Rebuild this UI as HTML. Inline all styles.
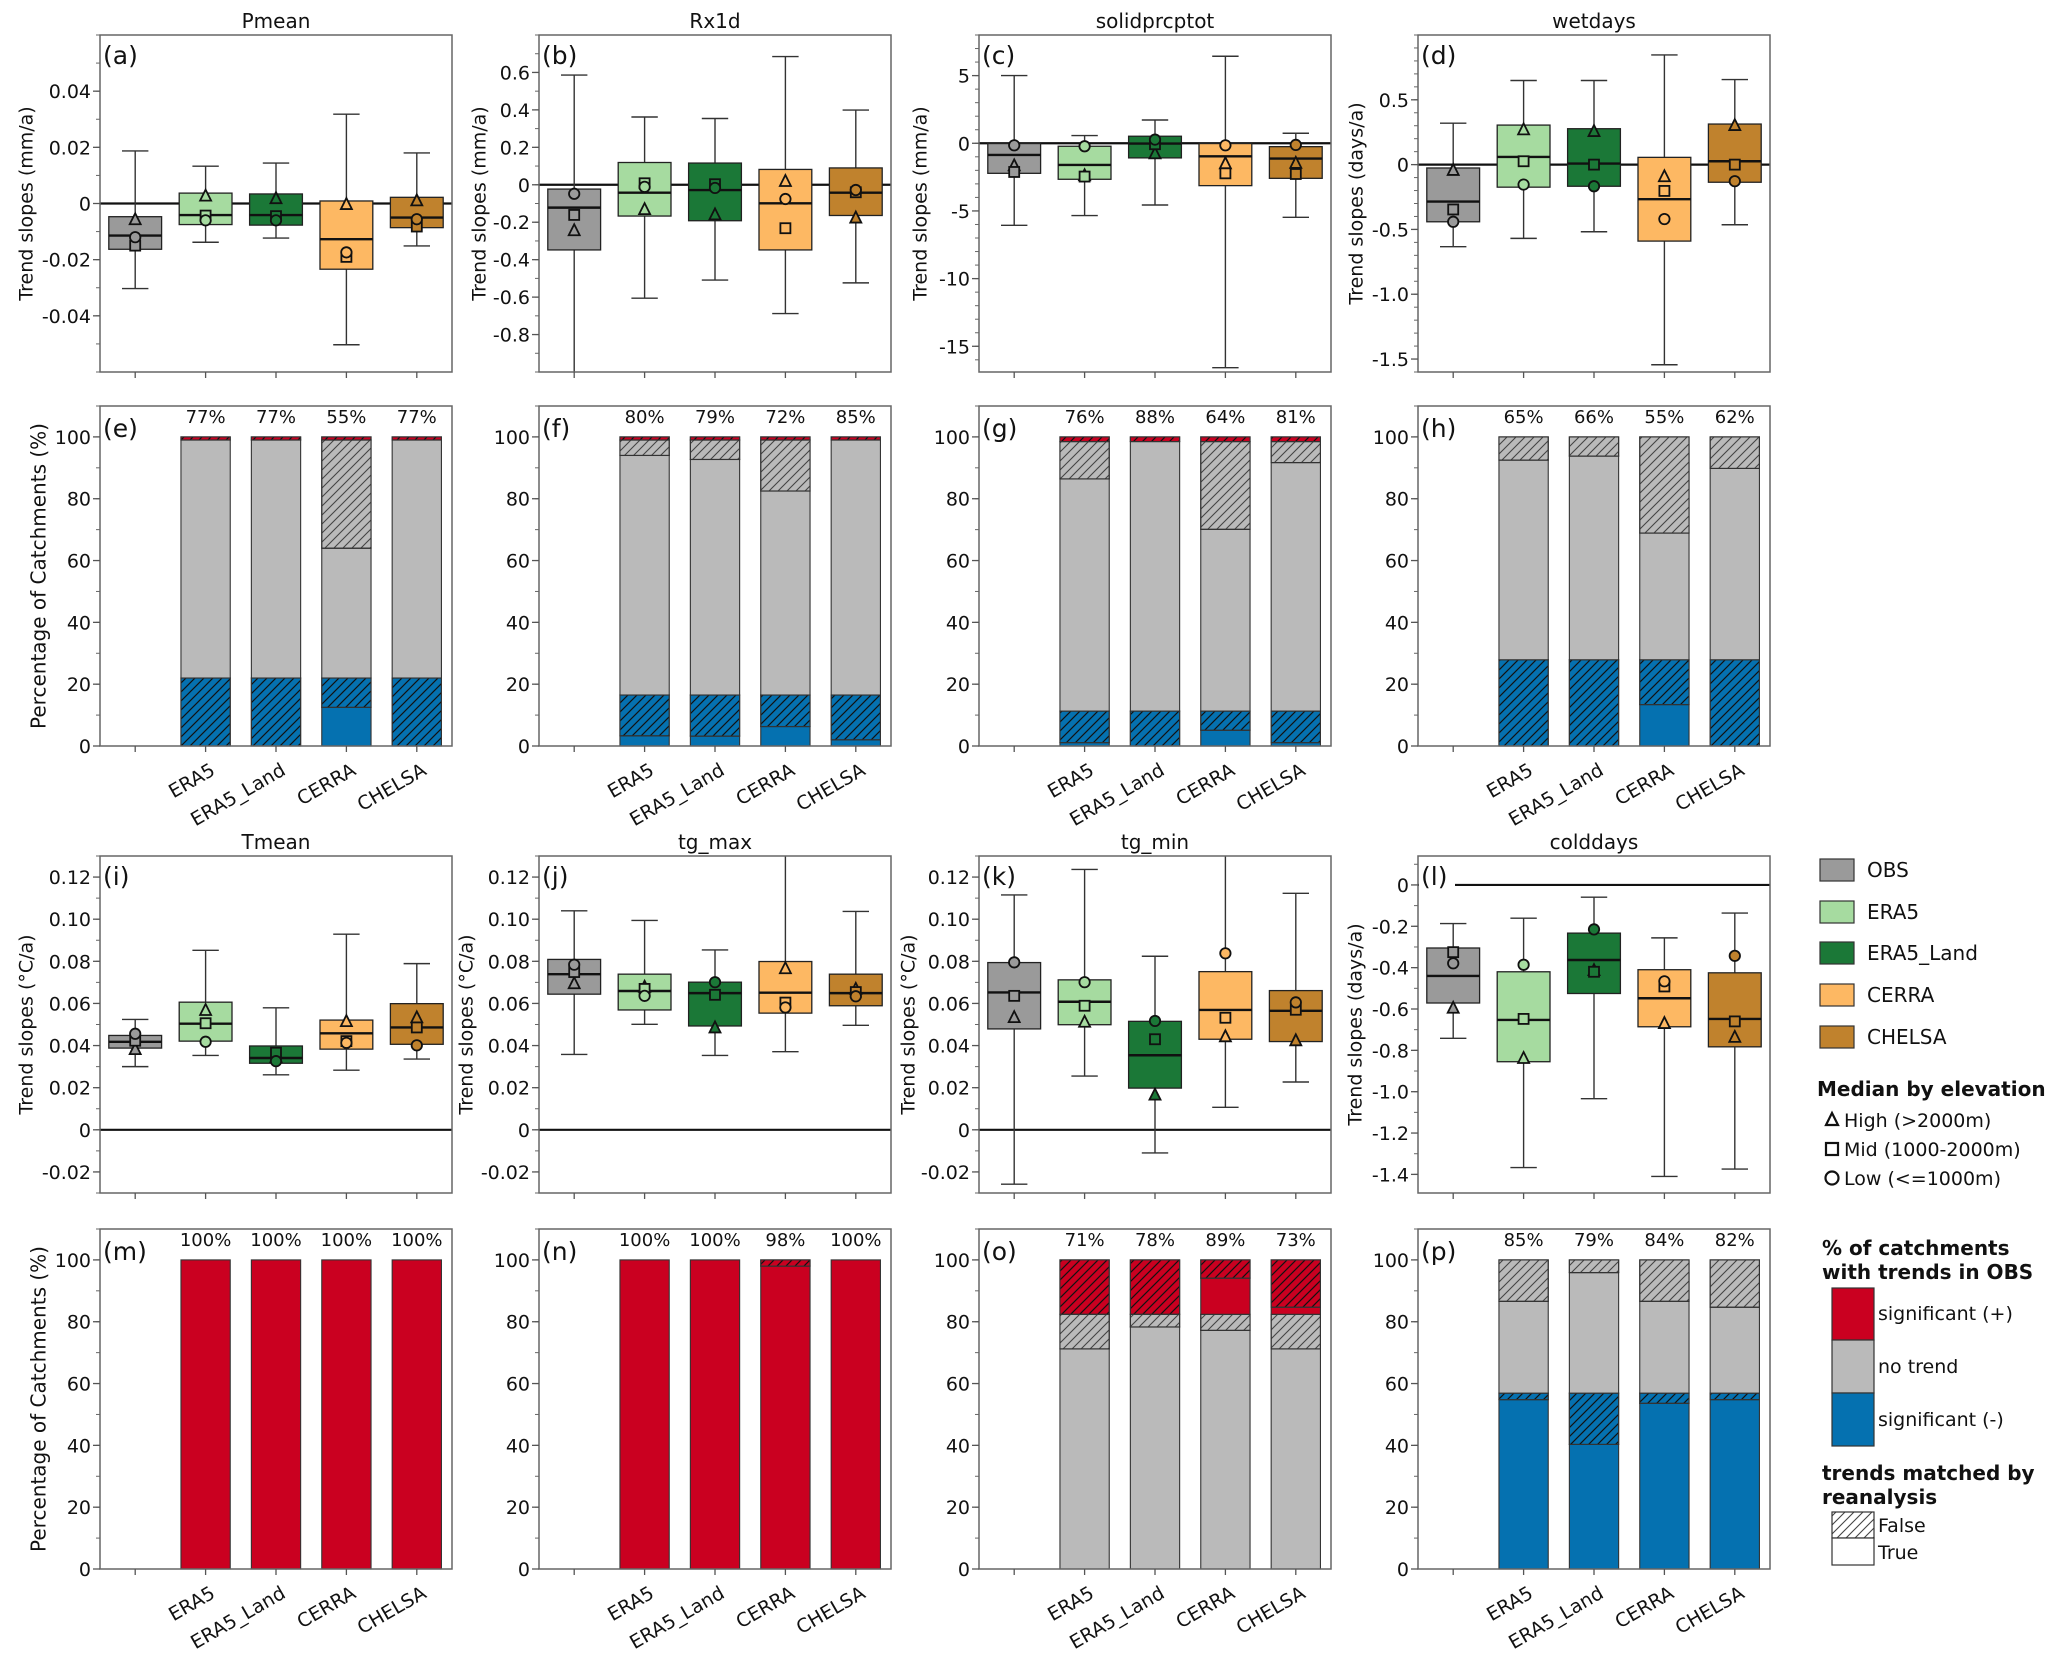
<!DOCTYPE html>
<html><head><meta charset="utf-8"><style>
html,body{margin:0;padding:0;background:#fff;}
svg text{font-family:"DejaVu Sans","Liberation Sans",sans-serif;fill:#111;}
</style></head><body>
<svg id="fig" xmlns="http://www.w3.org/2000/svg" width="2067" height="1649" viewBox="0 0 2067 1649">
<defs>
<pattern id="hatchBlack" patternUnits="userSpaceOnUse" width="9" height="9" patternTransform="rotate(0)">
<path d="M-2,11 L11,-2 M-2,2 L2,-2 M7,11 L11,7" stroke="#111" stroke-width="1.2"/></pattern>
<pattern id="hatchGray" patternUnits="userSpaceOnUse" width="9" height="9">
<path d="M-2,11 L11,-2 M-2,2 L2,-2 M7,11 L11,7" stroke="#444" stroke-width="1.1"/></pattern>
</defs>
</svg>
<script>
const categories = ['OBS','ERA5','ERA5_Land','CERRA','CHELSA'];
const reanalyses = ['ERA5','ERA5_Land','CERRA','CHELSA'];
const boxColors = ['#9a9a9a','#a6dba0','#1b7837','#fdb863','#c0822d'];

// Pmean
const pmeanWLo=[-0.0303,-0.0138,-0.0123,-0.0503,-0.0151];
const pmeanQ1=[-0.0163,-0.0075,-0.0077,-0.0234,-0.0086];
const pmeanMed=[-0.0114,-0.0041,-0.0041,-0.0127,-0.005];
const pmeanQ3=[-0.0047,0.0037,0.0034,0.0009,0.0022];
const pmeanWHi=[0.0187,0.0133,0.0144,0.0318,0.018];
const pmeanHigh=[-0.0056,0.0028,0.0019,-0.0002,0.0011];
const pmeanMid=[-0.015,-0.0043,-0.0045,-0.019,-0.0082];
const pmeanLow=[-0.012,-0.006,-0.006,-0.0174,-0.0056];
// Rx1d
const rx1dWLo=[-1.05,-0.606,-0.509,-0.688,-0.524];
const rx1dQ1=[-0.348,-0.167,-0.192,-0.348,-0.164];
const rx1dMed=[-0.122,-0.042,-0.028,-0.099,-0.042];
const rx1dQ3=[-0.023,0.119,0.116,0.082,0.09];
const rx1dWHi=[0.586,0.362,0.354,0.685,0.399];
const rx1dHigh=[-0.243,-0.13,-0.158,0.02,-0.175];
const rx1dMid=[-0.161,0.008,0.003,-0.232,-0.04];
const rx1dLow=[-0.048,-0.011,-0.017,-0.076,-0.028];
// solidprcptot
const solidWLo=[-6.06,-5.34,-4.56,-16.58,-5.47];
const solidQ1=[-2.22,-2.66,-1.08,-3.13,-2.59];
const solidMed=[-0.86,-1.6,-0.02,-0.96,-1.13];
const solidQ3=[-0.02,-0.22,0.52,-0.02,-0.25];
const solidWHi=[5.0,0.57,1.72,6.43,0.74];
const solidHigh=[-1.63,-2.36,-0.74,-1.48,-1.45];
const solidMid=[-2.12,-2.46,-0.07,-2.22,-2.27];
const solidLow=[-0.15,-0.22,0.27,-0.15,-0.12];
// wetdays
const wetWLo=[-0.633,-0.569,-0.518,-1.544,-0.464];
const wetQ1=[-0.441,-0.174,-0.167,-0.59,-0.136];
const wetMed=[-0.285,0.059,0.008,-0.267,0.026];
const wetQ3=[-0.026,0.305,0.277,0.056,0.313];
const wetWHi=[0.32,0.649,0.649,0.846,0.656];
const wetHigh=[-0.041,0.272,0.259,-0.09,0.305];
const wetMid=[-0.346,0.026,0,-0.203,0];
const wetLow=[-0.441,-0.154,-0.167,-0.42,-0.128];
// Tmean
const tmeanWLo=[0.030,0.0353,0.0261,0.0283,0.0336];
const tmeanQ1=[0.0388,0.0421,0.0316,0.0383,0.0406];
const tmeanMed=[0.0418,0.0504,0.0341,0.0458,0.0486];
const tmeanQ3=[0.0448,0.0606,0.0398,0.0521,0.0599];
const tmeanWHi=[0.0524,0.0852,0.0579,0.0929,0.0789];
const tmeanHigh=[0.0383,0.0569,0.0346,0.0516,0.0534];
const tmeanMid=[0.0423,0.0506,0.0366,0.0421,0.0486];
const tmeanLow=[0.0456,0.0418,0.0326,0.0413,0.0401];
// tg_max
const tgmaxWLo=[0.0358,0.0501,0.0353,0.0371,0.0496];
const tgmaxQ1=[0.0644,0.0569,0.0493,0.0554,0.0589];
const tgmaxMed=[0.0739,0.0659,0.0649,0.0651,0.0649];
const tgmaxQ3=[0.0809,0.0739,0.0701,0.0799,0.0739];
const tgmaxWHi=[0.104,0.0994,0.0854,0.14,0.1037];
const tgmaxHigh=[0.0696,0.0679,0.0486,0.0767,0.0669];
const tgmaxMid=[0.0749,0.0669,0.0641,0.0604,0.0654];
const tgmaxLow=[0.0784,0.0636,0.0701,0.0581,0.0634];
// tg_min
const tgminWLo=[-0.0258,0.0255,-0.011,0.0107,0.0227];
const tgminQ1=[0.0479,0.0499,0.0198,0.043,0.0419];
const tgminMed=[0.0652,0.0608,0.0354,0.0569,0.0565];
const tgminQ3=[0.0794,0.0712,0.0515,0.0751,0.0661];
const tgminWHi=[0.1115,0.1236,0.0824,0.14,0.1123];
const tgminHigh=[0.0535,0.0513,0.0167,0.0444,0.0425];
const tgminMid=[0.0636,0.0589,0.043,0.0532,0.057];
const tgminLow=[0.0795,0.0701,0.0517,0.0838,0.0605];
// colddays
const coldWLo=[-0.742,-1.367,-1.034,-1.41,-1.374];
const coldQ1=[-0.571,-0.855,-0.525,-0.686,-0.783];
const coldMed=[-0.44,-0.653,-0.363,-0.548,-0.648];
const coldQ3=[-0.305,-0.42,-0.233,-0.41,-0.425];
const coldWHi=[-0.187,-0.161,-0.059,-0.256,-0.136];
const coldHigh=[-0.594,-0.837,-0.412,-0.668,-0.735];
const coldMid=[-0.325,-0.648,-0.42,-0.491,-0.66];
const coldLow=[-0.379,-0.386,-0.215,-0.466,-0.343];

// stacked bars (percent of catchments)
const eNegT=[0,0,12.5,0], eNegF=[22,22,9.5,22], eNoT=[77,77,42,77], eNoF=[0,0,35,0], ePosT=[0,0,0,0], ePosF=[1,1,1,1];
const eLabels=['77%','77%','55%','77%'];
const fNegT=[3.3,3.2,6.3,2], fNegF=[13.2,13.3,10.2,14.5], fNoT=[77.5,76.2,66,82.5], fNoF=[5,6.3,16.5,0], fPosT=[0,0,0,0], fPosF=[1,1,1,1];
const fLabels=['80%','79%','72%','85%'];
const gNegT=[1.1,0,5.1,1.1], gNegF=[10.2,11.3,6.2,10.2], gNoT=[75.1,87.2,58.8,80.4], gNoF=[12.1,0,28.4,6.8], gPosT=[0,0,0,0], gPosF=[1.5,1.5,1.5,1.5];
const gLabels=['76%','88%','64%','81%'];
const hNegT=[0,0,13.4,0], hNegF=[27.9,27.9,14.5,27.9], hNoT=[64.6,65.9,41,61.9], hNoF=[7.5,6.2,31.1,10.2], hPosT=[0,0,0,0], hPosF=[0,0,0,0];
const hLabels=['65%','66%','55%','62%'];
const mNegT=[0,0,0,0], mNegF=[0,0,0,0], mNoT=[0,0,0,0], mNoF=[0,0,0,0], mPosT=[100,100,100,100], mPosF=[0,0,0,0];
const mLabels=['100%','100%','100%','100%'];
const nNegT=[0,0,0,0], nNegF=[0,0,0,0], nNoT=[0,0,0,0], nNoF=[0,0,0,0], nPosT=[100,100,98,100], nPosF=[0,0,2,0];
const nLabels=['100%','100%','98%','100%'];
const oNegT=[0,0,0,0], oNegF=[0,0,0,0], oNoT=[71.2,78.3,77.2,71.2], oNoF=[11.2,4.1,5.2,11.2], oPosT=[0,0,11.7,2.3], oPosF=[17.6,17.6,5.9,15.3];
const oLabels=['71%','78%','89%','73%'];
const pNegT=[54.8,40.3,53.6,54.8], pNegF=[2.1,16.6,3.3,2.1], pNoT=[29.7,39,29.7,27.8], pNoF=[13.4,4.1,13.4,15.3], pPosT=[0,0,0,0], pPosF=[0,0,0,0];
const pLabels=['85%','79%','84%','82%'];

const NS='http://www.w3.org/2000/svg';
const svg=document.getElementById('fig');
function el(tag,attrs,parent,text){const e=document.createElementNS(NS,tag);for(const k in attrs)e.setAttribute(k,attrs[k]);if(text!==undefined)e.textContent=text;(parent||svg).appendChild(e);return e;}

const colX=[100,539,979,1418], W=352;
const rowBox=[35,856], HB=337, rowBar=[406,1229], HR=340;
let clipId=0;

function axesFrame(g,L,T,H,yScale,ticks,labels,minorStep,ylim){
  // minor ticks
  for(let v=Math.ceil(ylim[0]/minorStep-1e-6)*minorStep; v<=ylim[1]+1e-9; v+=minorStep){
    const y=yScale(v); el('line',{x1:L-4,x2:L,y1:y,y2:y,stroke:'#666','stroke-width':1},g);
  }
  ticks.forEach((v,i)=>{const y=yScale(v);
    el('line',{x1:L-7,x2:L,y1:y,y2:y,stroke:'#555','stroke-width':1.3},g);
    const t=el('text',{x:L-9,y:y+7,'text-anchor':'end','font-size':19},g,labels[i]);
    
    
  });
  for(let i=0;i<5;i++){const x=L+(i+0.5)*W/5;el('line',{x1:x,x2:x,y1:T+H,y2:T+H+6,stroke:'#555','stroke-width':1.3},g);}
}

function boxPanel(id,col,row,title,letter,ylabel,ylim,ticks,labels,minorStep,wlo,q1,med,q3,whi,hi,mid,lo,labX){
  const L=colX[col],T=rowBox[row],H=HB;
  const g=el('g',{});
  
  
  const ys=v=>T+H-(v-ylim[0])/(ylim[1]-ylim[0])*H;
  const xs=i=>L+(i+0.5)*W/5;
  const cid='clip'+(clipId++);
  const cp=el('clipPath',{id:cid},g);el('rect',{x:L,y:T,width:W,height:H},cp);
  const inner=el('g',{'clip-path':'url(#'+cid+')'},g);
  // zero line
  el('line',{x1:L,x2:L+W,y1:ys(0),y2:ys(0),stroke:'#111','stroke-width':2.2},inner);
  const bw=0.75*W/5;
  for(let i=0;i<5;i++){
    const x=xs(i);
    const bg=el('g',{},inner);
    
    
    el('line',{x1:x,x2:x,y1:ys(whi[i]),y2:ys(q3[i]),stroke:'#333','stroke-width':1.4},bg);
    el('line',{x1:x,x2:x,y1:ys(q1[i]),y2:ys(wlo[i]),stroke:'#333','stroke-width':1.4},bg);
    el('line',{x1:x-bw/4,x2:x+bw/4,y1:ys(whi[i]),y2:ys(whi[i]),stroke:'#333','stroke-width':1.4},bg);
    el('line',{x1:x-bw/4,x2:x+bw/4,y1:ys(wlo[i]),y2:ys(wlo[i]),stroke:'#333','stroke-width':1.4},bg);
    el('rect',{x:x-bw/2,y:ys(q3[i]),width:bw,height:ys(q1[i])-ys(q3[i]),fill:boxColors[i],stroke:'#222','stroke-width':1.3},bg);
    el('line',{x1:x-bw/2,x2:x+bw/2,y1:ys(med[i]),y2:ys(med[i]),stroke:'#111','stroke-width':2.4},bg);
    const c=boxColors[i];
    const ty=ys(hi[i]);
    el('path',{d:`M${x-5.5},${ty+5} L${x+5.5},${ty+5} L${x},${ty-6} Z`,fill:c,stroke:'#111','stroke-width':1.8},bg);
    const sy=ys(mid[i]);
    el('rect',{x:x-5,y:sy-5,width:10,height:10,fill:c,stroke:'#111','stroke-width':1.8},bg);
    el('circle',{cx:x,cy:ys(lo[i]),r:5.2,fill:c,stroke:'#111','stroke-width':1.8},bg);
  }
  el('rect',{x:L,y:T,width:W,height:H,fill:'none',stroke:'#666','stroke-width':1.5},g);
  axesFrame(g,L,T,H,ys,ticks,labels,minorStep,ylim);
  const lt=el('text',{x:L+3,y:T+29,'font-size':25},g,letter);
  
  
  const tt=el('text',{x:L+W/2,y:T-7,'text-anchor':'middle','font-size':20},g,title);
  
  
  const yc=T+H/2;
  const yl=el('text',{x:labX,y:yc,'text-anchor':'middle','font-size':19,transform:`rotate(-90 ${labX} ${yc})`,'dominant-baseline':'middle'},g,ylabel);
  
  
  return {g,L,ys};
}

function barPanel(id,col,row,letter,negT,negF,noT,noF,posT,posF,pct,showYLabel){
  const L=colX[col],T=rowBar[row],H=HR;
  const g=el('g',{});
  
  
  const ylim=[0,110];
  const ys=v=>T+H-(v-ylim[0])/(ylim[1]-ylim[0])*H;
  const xs=i=>L+(i+0.5)*W/5;
  const bw=0.7*W/5;
  for(let j=0;j<4;j++){
    const x=xs(j+1);
    const bg=el('g',{},g);
    
    
    const segs=[[negT[j],'#0571b0',null],[negF[j],'#0571b0','hatchBlack'],[noT[j],'#bababa',null],[noF[j],'#bababa','hatchGray'],[posT[j],'#ca0020',null],[posF[j],'#ca0020','hatchBlack']];
    let base=0;
    segs.forEach(s=>{ if(s[0]<=0) return;
      const y0=ys(base+s[0]),h=ys(base)-ys(base+s[0]);
      el('rect',{x:x-bw/2,y:y0,width:bw,height:h,fill:s[1],stroke:'#333','stroke-width':1.1},bg);
      if(s[2]) el('rect',{x:x-bw/2,y:y0,width:bw,height:h,fill:'url(#'+s[2]+')',stroke:'#333','stroke-width':1.1},bg);
      base+=s[0];
    });
    const pt=el('text',{x:x,y:ys(104.5),'text-anchor':'middle','font-size':18},g,pct[j]);
    
    
    const lx=x+4, ly=T+H+16;
    const xl=el('text',{x:lx,y:ly,'text-anchor':'end','font-size':19,transform:`rotate(-30 ${lx} ${ly})`,'dominant-baseline':'hanging'},g,reanalyses[j]);
    
    
  }
  el('rect',{x:L,y:T,width:W,height:H,fill:'none',stroke:'#666','stroke-width':1.5},g);
  axesFrame(g,L,T,H,ys,[0,20,40,60,80,100],['0','20','40','60','80','100'],10,ylim);
  const lt=el('text',{x:L+3,y:T+31,'font-size':25},g,letter);
  
  
  if(showYLabel){const yc=T+H/2,lx=40;
    const yl=el('text',{x:lx,y:yc,'text-anchor':'middle','font-size':20,transform:`rotate(-90 ${lx} ${yc})`,'dominant-baseline':'middle'},g,'Percentage of Catchments (%)');
    
    }
}

const tTicks=[-0.02,0,0.02,0.04,0.06,0.08,0.10,0.12], tLabels=['-0.02','0','0.02','0.04','0.06','0.08','0.10','0.12'];
boxPanel('pmean',0,0,'Pmean','(a)','Trend slopes (mm/a)',[-0.06,0.06],[-0.04,-0.02,0,0.02,0.04],['-0.04','-0.02','0','0.02','0.04'],0.01,pmeanWLo,pmeanQ1,pmeanMed,pmeanQ3,pmeanWHi,pmeanHigh,pmeanMid,pmeanLow,27);
boxPanel('rx1d',1,0,'Rx1d','(b)','Trend slopes (mm/a)',[-1.0,0.8],[-0.8,-0.6,-0.4,-0.2,0,0.2,0.4,0.6],['-0.8','-0.6','-0.4','-0.2','0','0.2','0.4','0.6'],0.1,rx1dWLo,rx1dQ1,rx1dMed,rx1dQ3,rx1dWHi,rx1dHigh,rx1dMid,rx1dLow,480);
boxPanel('solidprcptot',2,0,'solidprcptot','(c)','Trend slopes (mm/a)',[-16.9,8],[-15,-10,-5,0,5],['-15','-10','-5','0','5'],1,solidWLo,solidQ1,solidMed,solidQ3,solidWHi,solidHigh,solidMid,solidLow,921);
boxPanel('wetdays',3,0,'wetdays','(d)','Trend slopes (days/a)',[-1.6,1.0],[-1.5,-1.0,-0.5,0,0.5],['-1.5','-1.0','-0.5','0','0.5'],0.1,wetWLo,wetQ1,wetMed,wetQ3,wetWHi,wetHigh,wetMid,wetLow,1357);
boxPanel('tmean',0,1,'Tmean','(i)','Trend slopes (°C/a)',[-0.03,0.13],tTicks,tLabels,0.01,tmeanWLo,tmeanQ1,tmeanMed,tmeanQ3,tmeanWHi,tmeanHigh,tmeanMid,tmeanLow,27);
boxPanel('tg-max',1,1,'tg_max','(j)','Trend slopes (°C/a)',[-0.03,0.13],tTicks,tLabels,0.01,tgmaxWLo,tgmaxQ1,tgmaxMed,tgmaxQ3,tgmaxWHi,tgmaxHigh,tgmaxMid,tgmaxLow,467);
boxPanel('tg-min',2,1,'tg_min','(k)','Trend slopes (°C/a)',[-0.03,0.13],tTicks,tLabels,0.01,tgminWLo,tgminQ1,tgminMed,tgminQ3,tgminWHi,tgminHigh,tgminMid,tgminLow,909);
const cd=boxPanel('colddays',3,1,'colddays','(l)','Trend slopes (days/a)',[-1.49,0.14],[-1.4,-1.2,-1.0,-0.8,-0.6,-0.4,-0.2,0],['-1.4','-1.2','-1.0','-0.8','-0.6','-0.4','-0.2','0'],0.1,coldWLo,coldQ1,coldMed,coldQ3,coldWHi,coldHigh,coldMid,coldLow,1356);
// white box behind (l) label masking zero line
{const r=el('rect',{x:colX[3]+1,y:cd.ys(0)-12,width:36,height:24,fill:'#fff'},cd.g);cd.g.insertBefore(r,cd.g.querySelector('text'));}

barPanel('pmean',0,0,'(e)',eNegT,eNegF,eNoT,eNoF,ePosT,ePosF,eLabels,true);
barPanel('rx1d',1,0,'(f)',fNegT,fNegF,fNoT,fNoF,fPosT,fPosF,fLabels,false);
barPanel('solidprcptot',2,0,'(g)',gNegT,gNegF,gNoT,gNoF,gPosT,gPosF,gLabels,false);
barPanel('wetdays',3,0,'(h)',hNegT,hNegF,hNoT,hNoF,hPosT,hPosF,hLabels,false);
barPanel('tmean',0,1,'(m)',mNegT,mNegF,mNoT,mNoF,mPosT,mPosF,mLabels,true);
barPanel('tg-max',1,1,'(n)',nNegT,nNegF,nNoT,nNoF,nPosT,nPosF,nLabels,false);
barPanel('tg-min',2,1,'(o)',oNegT,oNegF,oNoT,oNoF,oPosT,oPosF,oLabels,false);
barPanel('colddays',3,1,'(p)',pNegT,pNegF,pNoT,pNoF,pPosT,pPosF,pLabels,false);

// legend
const lg=el('g',{});


const legY=[870,912,953,995,1037];
categories.forEach((c,i)=>{
  const it=el('g',{},lg);
  
  
  el('rect',{x:1820,y:legY[i]-11,width:34,height:22,fill:boxColors[i],stroke:'#333','stroke-width':1.2},it);
  el('text',{x:1867,y:legY[i]+7,'font-size':20},it,c);
});
el('text',{x:1817,y:1096,'font-size':20,'font-weight':'bold'},lg,'Median by elevation');
const mk=el('g',{},lg);


el('path',{d:'M1826,1125 L1838,1125 L1832,1113 Z',fill:'#fff',stroke:'#111','stroke-width':2.2},mk);
el('text',{x:1844,y:1127,'font-size':19},mk,'High (>2000m)');
el('rect',{x:1826,y:1143,width:12,height:12,fill:'#fff',stroke:'#111','stroke-width':2.2},mk);
el('text',{x:1844,y:1156,'font-size':19},mk,'Mid (1000-2000m)');
el('circle',{cx:1832,cy:1178,r:6.5,fill:'#fff',stroke:'#111','stroke-width':2.2},mk);
el('text',{x:1844,y:1185,'font-size':19},mk,'Low (<=1000m)');
el('text',{x:1822,y:1255,'font-size':20,'font-weight':'bold'},lg,'% of catchments');
el('text',{x:1822,y:1279,'font-size':20,'font-weight':'bold'},lg,'with trends in OBS');
const tr=el('g',{},lg);


el('rect',{x:1832,y:1288,width:42,height:52,fill:'#ca0020',stroke:'#333','stroke-width':1.2},tr);
el('rect',{x:1832,y:1340,width:42,height:53,fill:'#bababa',stroke:'#333','stroke-width':1.2},tr);
el('rect',{x:1832,y:1393,width:42,height:53,fill:'#0571b0',stroke:'#333','stroke-width':1.2},tr);
el('text',{x:1878,y:1320,'font-size':19},tr,'significant (+)');
el('text',{x:1878,y:1373,'font-size':19},tr,'no trend');
el('text',{x:1878,y:1426,'font-size':19},tr,'significant (-)');
el('text',{x:1822,y:1480,'font-size':20,'font-weight':'bold'},lg,'trends matched by');
el('text',{x:1822,y:1504,'font-size':20,'font-weight':'bold'},lg,'reanalysis');
const hm=el('g',{},lg);


el('rect',{x:1832,y:1512,width:42,height:26,fill:'url(#hatchGray)',stroke:'#333','stroke-width':1.2},hm);
el('rect',{x:1832,y:1538,width:42,height:27,fill:'#fff',stroke:'#333','stroke-width':1.2},hm);
el('text',{x:1878,y:1532,'font-size':19},hm,'False');
el('text',{x:1878,y:1559,'font-size':19},hm,'True');
</script>
</body></html>
